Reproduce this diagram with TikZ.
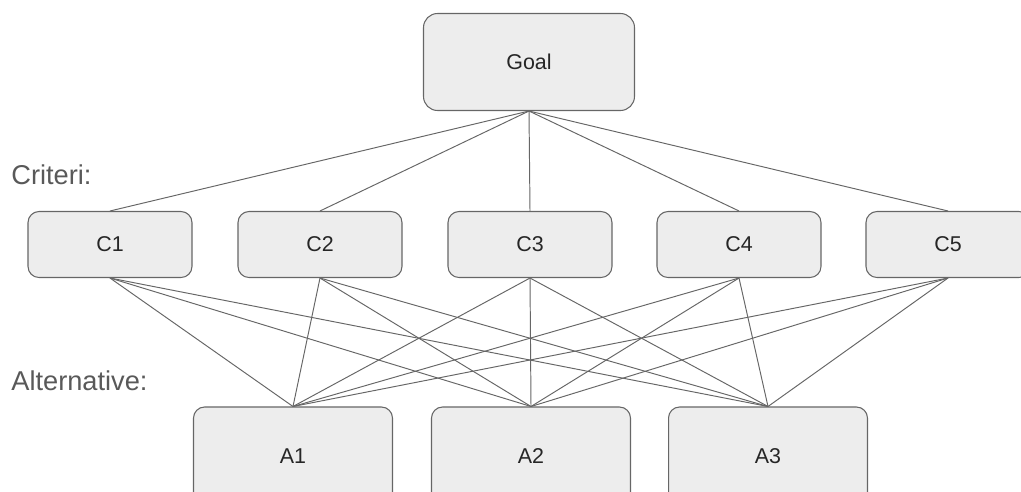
\documentclass[tikz,border=0pt]{standalone}
\usepackage{fontspec}
\setmainfont{Liberation Sans}
\usepackage{tikz}

\begin{document}
\begin{tikzpicture}[x=0.02cm, y=-0.02cm]
\tikzset{box/.style = {shape=rectangle, rounded corners=0.22cm, draw=black!60, fill=black!7, line width=0.6pt, text=black!85, font=\fontsize{12.2}{14}\selectfont, inner sep=0pt}}
\tikzset{crit/.style = {box, minimum width=3.28cm, minimum height=1.32cm}}
\tikzset{alt/.style = {box, minimum width=3.98cm, minimum height=1.96cm}}
\tikzset{level/.style = {anchor=west, text=black!65, font=\fontsize{15.5}{18}\selectfont, inner sep=0pt}}
\tikzset{link/.style = {draw=black!60, line width=0.55pt}}
\clip (0, 0) rectangle (1021, 491);
\node[box, minimum width=4.22cm, minimum height=1.94cm, rounded corners=0.28cm](goal) at (529, 62) {Goal};
\node[level](crit) at (11, 175) {Criteri:};
\node[level](alt) at (11, 381) {Alternative:};
\node[crit](c1) at (110, 244.5) {C1};
\node[crit](c2) at (320, 244.5) {C2};
\node[crit](c3) at (530, 244.5) {C3};
\node[crit](c4) at (739, 244.5) {C4};
\node[crit](c5) at (948, 244.5) {C5};
\node[alt](a1) at (293, 456) {A1};
\node[alt](a2) at (531, 456) {A2};
\node[alt](a3) at (768, 456) {A3};
\draw[link] (goal.south) -- (c1.north);
\draw[link] (goal.south) -- (c2.north);
\draw[link] (goal.south) -- (c3.north);
\draw[link] (goal.south) -- (c4.north);
\draw[link] (goal.south) -- (c5.north);
\draw[link] (c1.south) -- (a1.north);
\draw[link] (c1.south) -- (a2.north);
\draw[link] (c1.south) -- (a3.north);
\draw[link] (c2.south) -- (a1.north);
\draw[link] (c2.south) -- (a2.north);
\draw[link] (c2.south) -- (a3.north);
\draw[link] (c3.south) -- (a1.north);
\draw[link] (c3.south) -- (a2.north);
\draw[link] (c3.south) -- (a3.north);
\draw[link] (c4.south) -- (a1.north);
\draw[link] (c4.south) -- (a2.north);
\draw[link] (c4.south) -- (a3.north);
\draw[link] (c5.south) -- (a1.north);
\draw[link] (c5.south) -- (a2.north);
\draw[link] (c5.south) -- (a3.north);
\end{tikzpicture}
\end{document}
